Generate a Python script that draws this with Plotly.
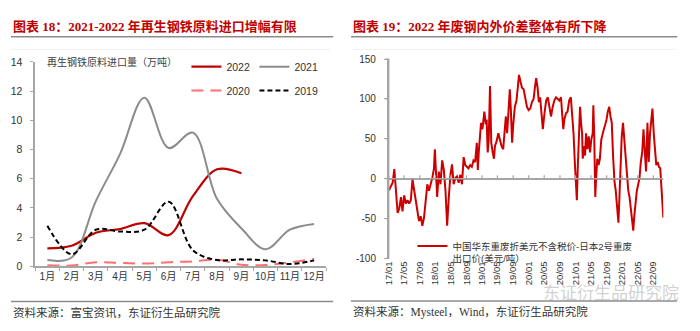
from datetime import date

import plotly.graph_objects as go

# ---------------- data ----------------
months = ["1月", "2月", "3月", "4月", "5月", "6月",
          "7月", "8月", "9月", "10月", "11月", "12月"]
imp_2022 = [1.22, 1.40, 2.29, 2.55, 2.95, 2.13, 4.80, 6.64, 6.37]
imp_2021 = [0.42, 0.60, 4.46, 7.70, 11.55, 8.10, 9.15, 4.60, 2.60, 1.16, 2.50, 2.90]
imp_2020 = [0.07, 0.05, 0.27, 0.22, 0.18, 0.27, 0.33, 0.44, 0.10, 0.08, 0.26, 0.50]
imp_2019 = [2.78, 0.82, 2.50, 2.38, 2.50, 4.42, 1.10, 0.42, 0.47, 0.40, 0.15, 0.40]

spread_dates = [
    "2017-01-01", "2017-01-19", "2017-02-01", "2017-02-14", "2017-02-27", "2017-03-12",
    "2017-03-25", "2017-04-07", "2017-04-19", "2017-05-02", "2017-05-15", "2017-05-28",
    "2017-06-10", "2017-06-23", "2017-07-06", "2017-07-19", "2017-08-01", "2017-08-14",
    "2017-08-26", "2017-09-08", "2017-09-21", "2017-10-04", "2017-10-17", "2017-10-30",
    "2017-11-12", "2017-11-25", "2017-12-08", "2017-12-21", "2017-12-28", "2018-01-08",
    "2018-01-15", "2018-01-28", "2018-02-10", "2018-02-23", "2018-03-08", "2018-03-21",
    "2018-04-03", "2018-04-16", "2018-04-29", "2018-05-11", "2018-05-24", "2018-06-06",
    "2018-06-19", "2018-07-02", "2018-07-15", "2018-07-28", "2018-08-10", "2018-08-23",
    "2018-09-05", "2018-09-17", "2018-09-30", "2018-10-13", "2018-10-26", "2018-11-08",
    "2018-11-21", "2018-11-29", "2018-12-06", "2018-12-17", "2018-12-24", "2019-01-04",
    "2019-01-12", "2019-01-19", "2019-01-30", "2019-02-06", "2019-02-14", "2019-02-22",
    "2019-03-04", "2019-03-14", "2019-03-25", "2019-04-04", "2019-04-12", "2019-04-25",
    "2019-05-08", "2019-05-21", "2019-06-02", "2019-06-15", "2019-06-28", "2019-07-06",
    "2019-07-16", "2019-07-24", "2019-08-06", "2019-08-14", "2019-08-24", "2019-09-01",
    "2019-09-14", "2019-09-27", "2019-10-09", "2019-10-17", "2019-10-28", "2019-11-09",
    "2019-11-22", "2019-12-05", "2019-12-18", "2019-12-31", "2020-01-13", "2020-01-26",
    "2020-02-08", "2020-02-18", "2020-02-28", "2020-03-10", "2020-03-20", "2020-03-30",
    "2020-04-12", "2020-04-20", "2020-05-03", "2020-05-16", "2020-05-29", "2020-06-11",
    "2020-06-23", "2020-07-06", "2020-07-19", "2020-08-01", "2020-08-14", "2020-08-27",
    "2020-09-09", "2020-09-17", "2020-09-27", "2020-10-05", "2020-10-18", "2020-10-30",
    "2020-11-12", "2020-11-25", "2020-12-08", "2020-12-16", "2020-12-26", "2021-01-03",
    "2021-01-11", "2021-01-18", "2021-01-26", "2021-02-05", "2021-02-13", "2021-02-21",
    "2021-02-26", "2021-03-08", "2021-03-16", "2021-03-24", "2021-04-03", "2021-04-14",
    "2021-04-24", "2021-05-04", "2021-05-15", "2021-05-20", "2021-05-27", "2021-06-04",
    "2021-06-12", "2021-06-20", "2021-06-30", "2021-07-10", "2021-07-21", "2021-07-31",
    "2021-08-10", "2021-08-21", "2021-08-31", "2021-09-10", "2021-09-21", "2021-10-01",
    "2021-10-11", "2021-10-21", "2021-11-01", "2021-11-11", "2021-11-21", "2021-12-02",
    "2021-12-10", "2021-12-17", "2021-12-28", "2022-01-07", "2022-01-17", "2022-01-28",
    "2022-02-07", "2022-02-17", "2022-02-27", "2022-03-10", "2022-03-20", "2022-03-28",
    "2022-04-05", "2022-04-15", "2022-04-25", "2022-05-06", "2022-05-16", "2022-05-26",
    "2022-06-06", "2022-06-16", "2022-06-26", "2022-07-06", "2022-07-17", "2022-07-27",
    "2022-08-06", "2022-08-17", "2022-08-25", "2022-09-04", "2022-09-14", "2022-09-24",
    "2022-10-05", "2022-10-15", "2022-10-25", "2022-11-05", "2022-11-12", "2022-11-18",
]
spread_values = [
    -15, -9, -5, 12, -19, -43, -37, -23, -41, -21, -31, -27,
    -31, -27, -1, -15, -25, -39, -53, -47, -59, -49, -23, -7,
    -15, -7, 1, 13, 37, 1, -23, 9, -7, 23, 11, -15,
    -59, -23, 5, 18, -7, 1, 3, -5, 5, -7, 27, 17,
    15, 13, 17, 15, 23, 21, 45, 11, 33, 57, 70, 62,
    80, 84, 68, 74, 33, 49, 116, 45, 33, 25, 41, 47,
    57, 49, 41, 37, 57, 78, 57, 82, 112, 86, 45, 66,
    90, 98, 114, 130, 122, 114, 112, 98, 90, 86, 88, 96,
    100, 114, 126, 114, 96, 102, 82, 62, 82, 98, 102, 90,
    78, 90, 98, 102, 100, 98, 102, 86, 62, 74, 82, 84,
    98, 102, 78, 57, 21, -11, -27, 13, 57, 90, 70, 57,
    25, 41, 29, 57, 37, 53, 33, 49, 57, 92, 53, -23,
    5, 25, 17, 25, 49, 57, 62, 68, 74, 84, 90, 78,
    70, 29, -3, -15, -31, -55, -23, 21, 53, 70, 49, 21,
    9, -15, -23, -39, -57, -65, -47, -27, -15, -7, 1, 21,
    33, 62, 41, 9, 70, 21, 57, 78, 88, 57, 29, 17,
    21, 15, 13, -19, -39, -49,
]
spread_ticks = [
    "2017-01-01", "2017-05-01", "2017-09-01", "2018-01-01", "2018-05-01", "2018-09-01",
    "2019-01-01", "2019-05-01", "2019-09-01", "2020-01-01", "2020-05-01", "2020-09-01",
    "2021-01-01", "2021-05-01", "2021-09-01", "2022-01-01", "2022-05-01", "2022-09-01",
]
spread_ticktext = [d[2:4] + "/" + d[5:7] for d in spread_ticks]
spread_yticks = [-100, -50, 0, 50, 100, 150]
spread_yticktext = ["-100", "-50", "0", "50", "100", "150"]

# ---------------- helpers ----------------
W, H = 700, 331


def px(x):
    return x / W


def py(y):
    return 1 - y / H


SANS = "Liberation Sans, Arial, Noto Sans CJK SC"
SERIF = "Liberation Serif, Noto Sans CJK SC"
AXIS_GRAY = "#A6A6A6"
TXT = "#333333"

fig = go.Figure()

# ---------------- left: monthly imports ----------------
fig.add_trace(go.Scatter(x=months[:len(imp_2022)], y=imp_2022, name="2022",
                         mode="lines", line=dict(color="#C00000", width=2.2, shape="spline"),
                         xaxis="x", yaxis="y", legend="legend"))
fig.add_trace(go.Scatter(x=months, y=imp_2021, name="2021",
                         mode="lines", line=dict(color="#8C8C8C", width=2, shape="spline"),
                         xaxis="x", yaxis="y", legend="legend"))
fig.add_trace(go.Scatter(x=months, y=imp_2020, name="2020",
                         mode="lines", line=dict(color="#FF7070", width=2, shape="spline",
                                                 dash="12px,7px"),
                         xaxis="x", yaxis="y", legend="legend2"))
fig.add_trace(go.Scatter(x=months, y=imp_2019, name="2019",
                         mode="lines", line=dict(color="#000000", width=2, shape="spline",
                                                 dash="5px,3px"),
                         xaxis="x", yaxis="y", legend="legend2"))

# ---------------- right: price spread ----------------
x2_start, x2_end = "2017-01-01", "2022-11-18"
x2_dom = [px(386), px(663)]
y2_dom = [py(262), py(55)]
y2_range = [-100, 150]

fig.add_trace(go.Scatter(x=spread_dates, y=spread_values,
                         name="中国华东重废折美元不含税价-日本2号重废<br>出口价(美元/吨）",
                         mode="lines", line=dict(color="#CC0000", width=2),
                         xaxis="x2", yaxis="y2", legend="legend3"))


def x2_paper(d):
    """paper x of a date on the right-hand time axis"""
    t0 = date.fromisoformat(x2_start)
    span = (date.fromisoformat(x2_end) - t0).days
    return x2_dom[0] + (date.fromisoformat(d) - t0).days / span * (x2_dom[1] - x2_dom[0])


def y2_paper(v):
    return y2_dom[0] + (v - y2_range[0]) / (y2_range[1] - y2_range[0]) * (y2_dom[1] - y2_dom[0])


# zero-level axis line with small upward ticks, and the value axis with its ticks
zero_y = y2_paper(0)
fig.add_shape(type="line", xref="paper", yref="paper", x0=x2_dom[0], x1=x2_dom[1],
              y0=zero_y, y1=zero_y, line=dict(color=AXIS_GRAY, width=1.5))
for d in spread_ticks:
    xp = x2_paper(d)
    fig.add_shape(type="line", xref="paper", yref="paper", x0=xp, x1=xp,
                  y0=zero_y, y1=zero_y + 3.5 / H, line=dict(color=AXIS_GRAY, width=1.2))
fig.add_shape(type="line", xref="paper", yref="paper", x0=x2_dom[0], x1=x2_dom[0],
              y0=y2_dom[0], y1=y2_dom[1], line=dict(color=AXIS_GRAY, width=1.5))
for v in spread_yticks:
    yp = y2_paper(v)
    fig.add_shape(type="line", xref="paper", yref="paper", x0=x2_dom[0] - 3.5 / W,
                  x1=x2_dom[0], y0=yp, y1=yp, line=dict(color=AXIS_GRAY, width=1.2))

fig.update_layout(
    width=W, height=H,
    margin=dict(l=0, r=0, t=0, b=0),
    paper_bgcolor="white", plot_bgcolor="white",
    font=dict(family=SANS, size=10.5, color=TXT),
    xaxis=dict(domain=[px(29.5), px(323)], type="category", range=[-0.5, 11.5],
               categoryorder="array", categoryarray=months,
               showline=True, linecolor=AXIS_GRAY, linewidth=1.5,
               ticks="outside", ticklen=3, tickcolor=AXIS_GRAY, tickwidth=1.2,
               tickson="boundaries", showgrid=False, zeroline=False, tickangle=0,
               tickfont=dict(size=10, color=TXT), anchor="y"),
    yaxis=dict(domain=[py(270), py(58)], range=[0, 14], dtick=2,
               showline=True, linecolor=AXIS_GRAY, linewidth=1.5,
               ticks="outside", ticklen=3, tickcolor=AXIS_GRAY, tickwidth=1.2,
               showgrid=False, zeroline=False, ticklabelstandoff=6,
               tickfont=dict(size=10.5, color=TXT), anchor="x"),
    xaxis2=dict(domain=x2_dom, type="date", range=[x2_start, x2_end],
                tickvals=spread_ticks, ticktext=spread_ticktext, tickangle=-90,
                showline=False, ticks="", showgrid=False, zeroline=False,
                tickfont=dict(size=9.5, color=TXT), anchor="y2"),
    yaxis2=dict(domain=y2_dom, range=y2_range,
                tickvals=spread_yticks, ticktext=spread_yticktext,
                showline=True, linecolor=AXIS_GRAY, linewidth=1.5,
                ticks="outside", ticklen=3, tickcolor=AXIS_GRAY, tickwidth=1.2,
                showgrid=False, zeroline=True, zerolinecolor=AXIS_GRAY, zerolinewidth=1.5,
                ticklabelstandoff=6, tickfont=dict(size=10, color=TXT), anchor="x2"),
    legend=dict(x=px(182), y=py(63), xanchor="left", yanchor="middle",
                orientation="h", entrywidth=23, bgcolor="rgba(0,0,0,0)",
                font=dict(size=10.5, color=TXT), itemwidth=30),
    legend2=dict(x=px(182), y=py(87.7), xanchor="left", yanchor="middle",
                 orientation="h", entrywidth=23, bgcolor="rgba(0,0,0,0)",
                 font=dict(size=10.5, color=TXT), itemwidth=30),
    legend3=dict(x=px(410), y=py(236), xanchor="left", yanchor="top",
                 orientation="v", valign="top", bgcolor="rgba(0,0,0,0)",
                 font=dict(size=9.5, color=TXT), itemwidth=30),
    showlegend=True,
)

# ---------------- titles, rules, notes ----------------
RED_TITLE = "#C00000"
annotations = [
    dict(text="<b>图表 18：2021-2022 年再生钢铁原料进口增幅有限</b>", x=px(5), y=py(21.5),
         font=dict(family=SERIF, size=13, color=RED_TITLE)),
    dict(text="<b>图表 19：2022 年废钢内外价差整体有所下降</b>", x=px(348), y=py(21.5),
         font=dict(family=SERIF, size=13, color=RED_TITLE)),
    dict(text="再生钢铁原料进口量（万吨）", x=px(39), y=py(58),
         font=dict(family=SERIF, size=10, color="#404040")),
    dict(text="资料来源：富宝资讯，东证衍生品研究院", x=px(5), y=py(318),
         font=dict(family=SERIF, size=11.5, color=TXT)),
    dict(text="资料来源：Mysteel，Wind，东证衍生品研究院", x=px(348), y=py(318),
         font=dict(family=SERIF, size=11.5, color=TXT)),
    dict(text="东证衍生品研究院", x=px(540), y=py(298.5),
         font=dict(family=SANS, size=17, color="rgba(150,150,150,0.45)")),
]
for a in annotations:
    a.update(xref="paper", yref="paper", xanchor="left", yanchor="middle",
             showarrow=False)
fig.update_layout(annotations=annotations)

rules = [
    (5, 330, 32, "#8C8C8C", 1.5),
    (348, 677, 32, "#8C8C8C", 1.5),
    (5, 327, 45, "#EFEFEF", 1),
    (350, 675, 45, "#EFEFEF", 1),
    (5, 330, 306.5, "#8C8C8C", 1.5),
    (348, 677, 306, "#8C8C8C", 1.5),
]
for x0, x1, y, c, w in rules:
    fig.add_shape(type="line", xref="paper", yref="paper",
                  x0=px(x0), x1=px(x1), y0=py(y), y1=py(y),
                  line=dict(color=c, width=w))

fig.write_html("out.html")
